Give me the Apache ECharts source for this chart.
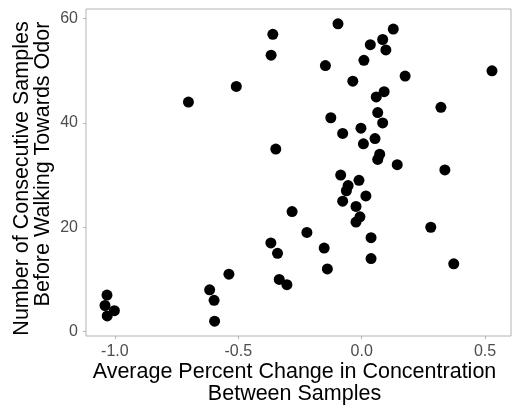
<!DOCTYPE html>
<html>
<head>
<meta charset="utf-8">
<script src="https://cdn.jsdelivr.net/npm/echarts@6/dist/echarts.min.js"></script>
<style>
  html, body { margin: 0; padding: 0; background: #fff; }
  #chart { width: 512px; height: 405px; }
</style>
</head>
<body>
<div id="chart"></div>
<script>
// average percent change (x) vs number of consecutive samples (y)
const pctChange = [
  -0.702, -0.508, -0.360, -0.367, -0.096, 0.128, 0.085, 0.035, 0.098, 0.009,
  -0.147, 0.528, 0.176, -0.036, 0.091, 0.059, 0.321, 0.065, -0.125, 0.085,
  -0.003, -0.077, 0.054, 0.007, -0.348, 0.073, 0.065, 0.144, 0.337, -0.085,
  -0.011, -0.055, -0.062, 0.017, -0.077, -0.282, -0.023, -0.007, -0.023, 0.280,
  -0.222, 0.038, -0.368, -0.152, -0.341, 0.038, 0.373, -0.139, -0.334, -0.303,
  -1.032, -1.040, -1.002, -1.031, -0.616, -0.598, -0.596, -0.538
]
const numSamples = [
  44, 47, 57, 53, 59, 58, 56, 55, 54, 52,
  51, 50, 49, 48, 46, 45, 43, 42, 41, 40,
  39, 38, 37, 36, 35, 34, 33, 32, 31, 30,
  29, 28, 27, 26, 25, 23, 24, 22, 21, 20,
  19, 18, 17, 16, 15, 14, 13, 12, 10, 9,
  7, 5, 4, 3, 8, 6, 2, 11
]
const xTicks = [-1.0, -0.5, 0.0, 0.5]
const yTicks = [0, 20, 40, 60]

const mychart = echarts.init(document.getElementById('chart'))
const font = 'Liberation Sans, Arial, sans-serif'
const points = pctChange.map((v, i) => [v, numSamples[i]])
const titleText = { fontFamily: font, fontSize: 21.5, color: '#000', lineHeight: 21 }

const option = {
  animation: false,
  grid: {
    left: 86,
    right: 1,
    top: 9,
    bottom: 69,
    containLabel: false,
    outerBoundsMode: 'none',
    show: true,
    borderColor: '#B3B3B3',
    borderWidth: 1
  },
  xAxis: {
    type: 'value',
    min: -1.117,
    max: 0.605,
    name: 'Average Percent Change in Concentration\nBetween Samples',
    nameLocation: 'middle',
    nameGap: 25,
    nameMoveOverlap: false,
    nameTextStyle: { ...titleText, lineHeight: 22, padding: [0, 8, 0, 0] },
    axisLine: { show: false, onZero: false },
    splitLine: { show: false },
    axisTick: {
      show: true,
      length: 3,
      customValues: xTicks,
      lineStyle: { color: '#B3B3B3' }
    },
    axisLabel: {
      customValues: xTicks,
      margin: 8,
      fontFamily: font,
      fontSize: 16,
      color: '#4D4D4D',
      formatter: v => v.toFixed(1)
    }
  },
  yAxis: {
    type: 'value',
    min: -0.85,
    max: 61.85,
    // both lines end at the same height in the reference
    name: '{a|Number of Consecutive Samples}\n{b|Before Walking Towards Odor}',
    nameLocation: 'middle',
    nameGap: 32,
    nameMoveOverlap: false,
    nameTextStyle: {
      ...titleText,
      rich: {
        a: { ...titleText, padding: [0, 12, 0, 0] },
        b: { ...titleText, padding: [0, 12, 0, 29] }
      }
    },
    axisLine: { show: false, onZero: false },
    splitLine: { show: false },
    axisTick: {
      show: true,
      length: 3,
      customValues: yTicks,
      lineStyle: { color: '#B3B3B3' }
    },
    axisLabel: {
      customValues: yTicks,
      margin: 8,
      fontFamily: font,
      fontSize: 16,
      color: '#4D4D4D'
    }
  },
  series: [
    {
      type: 'scatter',
      symbolSize: 11,
      itemStyle: { color: '#000', opacity: 1 },
      data: points
    }
  ]
}
option && mychart.setOption(option)
</script>
</body>
</html>
